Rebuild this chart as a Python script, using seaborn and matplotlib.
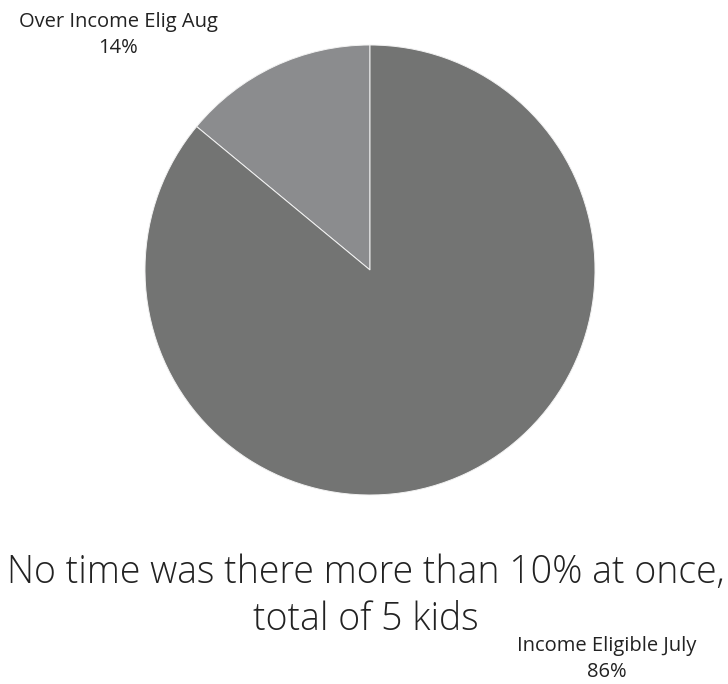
import matplotlib
matplotlib.use("Agg")
import matplotlib.pyplot as plt
import seaborn as sns

sns.set_theme(style="white")
plt.rcParams["font.family"] = ["Open Sans", "DejaVu Sans"]

categories = ["Over Income Elig Aug", "Income Eligible July"]
shares = [14, 86]
colors = ["#8b8c8e", "#737473"]
title_lines = ["No time was there more than 10% at once,", "total of 5 kids"]

W, H = 728, 684
fig = plt.figure(figsize=(W / 100, H / 100), dpi=100)
fig.patch.set_facecolor("white")

# pie area: 450 px square, centred at (370, 270) from the top-left
ax = fig.add_axes([145 / W, (H - 495) / H, 450 / W, 450 / H])
ax.pie(shares, colors=colors, startangle=90, counterclock=True, radius=1,
       wedgeprops=dict(edgecolor="#f2f2f2", linewidth=0.7))
ax.set_xlim(-1, 1)
ax.set_ylim(-1, 1)
ax.set_aspect("equal")
ax.axis("off")

# category labels placed in the corners
label_pos = [(118, 35), (607, 659)]
for (x, y), name, val in zip(label_pos, categories, shares):
    fig.text(x / W, 1 - y / H, f"{name}\n{val}%", ha="center", va="center",
             fontsize=14.5, color="#222222", linespacing=1.45)

fig.text(366 / W, 1 - 596 / H, "\n".join(title_lines), ha="center", va="center",
         fontsize=27, fontweight="light", color="#222222", linespacing=1.3)

fig.savefig("out.png", dpi=100, facecolor="white")
